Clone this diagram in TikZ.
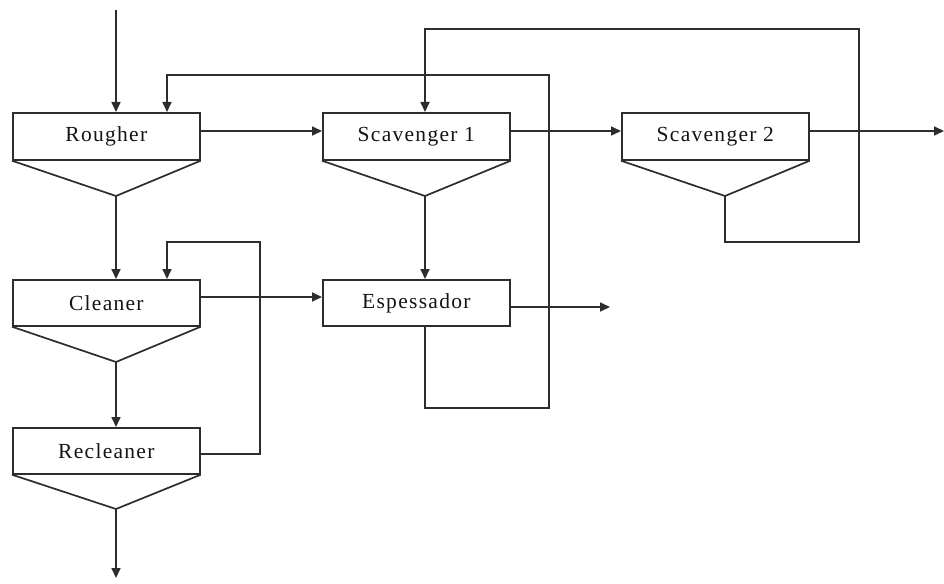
\documentclass[tikz,border=0pt]{standalone}
\usepackage{fontspec}
\setmainfont{Liberation Serif}[LetterSpace=6]
\usetikzlibrary{arrows.meta}
\begin{document}
\begin{tikzpicture}[x=1pt,y=-1pt,
  line width=1.7pt, draw={rgb,255:red,45;green,45;blue,45},
  unit/.style={draw, rectangle, minimum width=187pt, minimum height=47pt, inner sep=0pt,
    font=\fontsize{21.5}{24}\selectfont, anchor=north west, text={rgb,255:red,20;green,20;blue,20}},
  flow/.style={-{Triangle[length=10pt,width=9pt]}}]
\useasboundingbox (0,0) rectangle (944,583);

% units
\node[unit] (rougher) at (12,112) {Rougher};
\node[unit] (scav1) at (322,112) {Scavenger 1};
\node[unit] (scav2) at (621,112) {Scavenger 2};
\node[unit, minimum height=46pt] (cleaner) at (12,279) {Cleaner};
\node[unit, minimum height=46pt] (espess) at (322,279) {Espessador};
\node[unit, minimum height=46pt] (recleaner) at (12,427) {Recleaner};

% cones (underflow apex)
\coordinate (rA) at (116,196);
\coordinate (s1A) at (425,196);
\coordinate (s2A) at (725,196);
\coordinate (cA) at (116,362);
\coordinate (rcA) at (116,509);
\draw (rougher.south west) -- (rA) -- (rougher.south east);
\draw (scav1.south west) -- (s1A) -- (scav1.south east);
\draw (scav2.south west) -- (s2A) -- (scav2.south east);
\draw (cleaner.south west) -- (cA) -- (cleaner.south east);
\draw (recleaner.south west) -- (rcA) -- (recleaner.south east);

% free ends and bends
\coordinate (feed) at (116,10);
\coordinate (out1) at (944,131);
\coordinate (out2) at (610,307);
\coordinate (out3) at (116,578);
\coordinate (rfb) at (167,112);
\coordinate (cfb) at (167,279);

% connectors
\draw[flow] (feed) -- (feed |- rougher.north);
\draw[flow] (rougher.east |- 0,131) -- (scav1.west |- 0,131);
\draw[flow] (scav1.east |- 0,131) -- (scav2.west |- 0,131);
\draw[flow] (scav2.east |- 0,131) -- (out1);
\draw[flow] (s2A) -- (725,242) -- (859,242) -- (859,29) -- (425,29) -- (425,112);
\draw[flow] (s1A) -- (s1A |- espess.north);
\draw[flow] (rA) -- (rA |- cleaner.north);
\draw[flow] (cleaner.east |- 0,297) -- (espess.west |- 0,297);
\draw[flow] (espess.east |- 0,307) -- (out2);
\draw[flow] (espess.south -| 425,0) -- (425,408) -- (549,408) -- (549,75) -- (167,75) -- (rfb);
\draw[flow] (cA) -- (cA |- recleaner.north);
\draw[flow] (recleaner.east |- 0,454) -- (260,454) -- (260,242) -- (167,242) -- (cfb);
\draw[flow] (rcA) -- (out3);
\end{tikzpicture}
\end{document}
